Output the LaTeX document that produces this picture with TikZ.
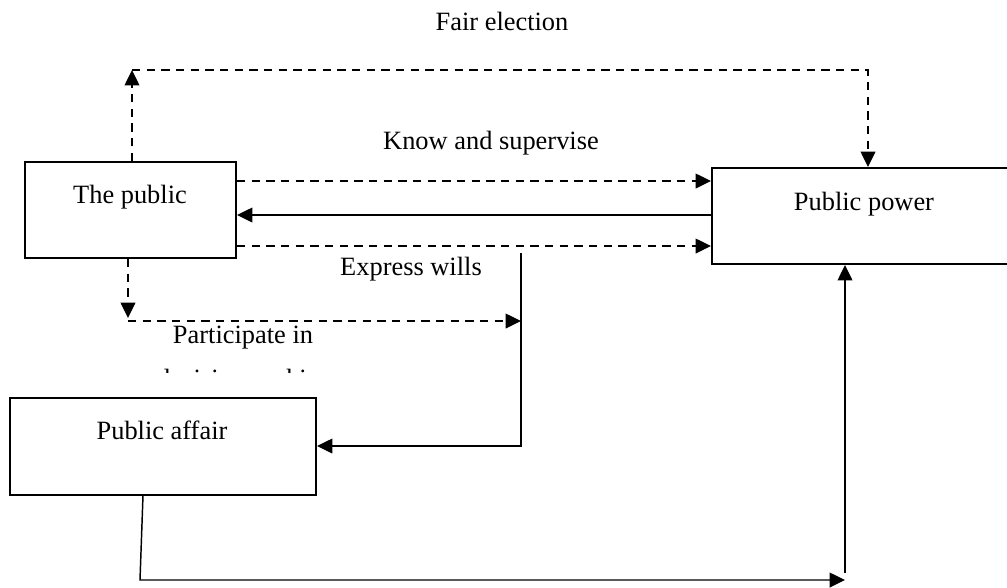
\documentclass[tikz,border=0pt]{standalone}
\usepackage{fontspec}
\setmainfont{Liberation Serif}
\usetikzlibrary{arrows.meta,calc}
\begin{document}
\begin{tikzpicture}[x=0.75pt,y=-0.75pt,
  box/.style={draw,line width=1.5pt,rectangle,inner sep=0pt},
  lbl/.style={inner sep=0pt,anchor=base,font=\fontsize{19.8}{24}\selectfont},
  conn/.style={line width=1.1pt,-{Triangle[length=11.5pt,width=11pt]}},
  dsh/.style={conn,dash pattern=on 6.2pt off 4.8pt},
  plain/.style={line width=1.1pt}]
\useasboundingbox (0,0) rectangle (1007,587);
\clip (0,0) rectangle (1007,587);
% boxes
\node[box,minimum width=211*0.75pt,minimum height=96*0.75pt] (public) at (130.5,210) {};
\node[box,minimum width=300*0.75pt,minimum height=96*0.75pt] (power) at (862,216) {};
\node[box,minimum width=306*0.75pt,minimum height=97*0.75pt] (affair) at (163,446) {};
% box texts
\node[lbl] (tpublic) at (130,203) {The public};
\node[lbl] (tpower) at (864,210) {Public power};
\node[lbl] (taffair) at (162,439) {Public affair};
% connector labels
\node[lbl] (lfair) at (502,30) {Fair election};
\node[lbl] (lknow) at (491,149) {Know and supervise};
\node[lbl] (lexpress) at (411,275) {Express wills};
\node[lbl] (lpart) at (243,343) {Participate in};
\begin{scope}
  \clip (0,0) rectangle (1007,372);
  \node[lbl] (ldec) at (245,387) {decision-making};
\end{scope}
% coordinates
\coordinate (fe1) at (132,70);
\coordinate (fe2) at (868,70);
\coordinate (ew) at (521,253);
\coordinate (pd1) at (128,318);
\coordinate (pd) at (128,321);
\coordinate (pa) at (140,580);
\coordinate (pb) at (845,580);
\coordinate (pv) at (845,573);
% fair election
\draw[dsh] (public.north -| fe1) -- (fe1);
\draw[dsh] (fe1) -- (fe2) -- (power.north -| fe2);
% know and supervise / feedback / express wills
\draw[dsh] (public.east |- 0,181) -- (power.west |- 0,181);
\draw[conn] (power.west |- 0,215) -- (public.east |- 0,215);
\draw[dsh] (public.east |- 0,246) -- (power.west |- 0,246);
% express wills to public affair
\draw[conn] (ew) -- (ew |- 0,446) -- (affair.east |- 0,446);
% participate in decision-making
\draw[dsh] (public.south -| pd1) -- (pd1);
\draw[dsh] (pd) -- (pd -| ew);
% public affair to public power
\draw[conn] (affair.south -| 143,0) -- (pa) -- (pb);
\draw[conn] (pv) -- (power.south -| pv);
\end{tikzpicture}
\end{document}
